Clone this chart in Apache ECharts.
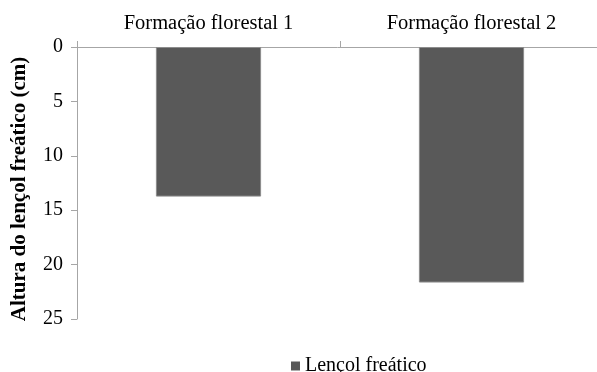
<!DOCTYPE html>
<html>
<head>
<meta charset="utf-8">
<script src="https://cdn.jsdelivr.net/npm/echarts@6/dist/echarts.min.js"></script>
<style>
html,body{margin:0;padding:0;background:#fff;}
#c{width:597px;height:372px;}
</style>
</head>
<body>
<div id="c"></div>
<script>
const categories = ['Formação florestal 1', 'Formação florestal 2'];
const seriesName = 'Lençol freático';
const values = [13.75, 21.65];
const yMin = 0, yMax = 25, yStep = 5;
const yAxisTitle = 'Altura do lençol freático (cm)';

const chart = echarts.init(document.getElementById('c'));
const serif = '"Liberation Serif", "Times New Roman", serif';
chart.setOption({
  animation: false,
  backgroundColor: '#fff',
  grid: { left: 77, top: 47, width: 526, height: 272, containLabel: false, outerBoundsMode: 'none' },
  legend: {
    data: [seriesName],
    left: 286, top: 351,
    icon: 'rect', itemWidth: 9, itemHeight: 9, itemGap: 4,
    itemStyle: { borderWidth: 0 },
    textStyle: { fontFamily: serif, fontSize: 20, color: '#000' }
  },
  xAxis: {
    type: 'category',
    position: 'top',
    data: categories,
    axisLine: { lineStyle: { color: '#a6a6a6', width: 1 } },
    axisTick: { show: true, length: 6, lineStyle: { color: '#a6a6a6' } },
    axisLabel: { fontFamily: serif, fontSize: 20.5, color: '#000', margin: 13 }
  },
  yAxis: {
    type: 'value',
    inverse: true,
    min: yMin, max: yMax, interval: yStep,
    name: yAxisTitle,
    nameLocation: 'middle',
    nameGap: 47,
    nameRotate: 90,
    nameTextStyle: { fontFamily: serif, fontSize: 21, fontWeight: 'bold', color: '#000', padding: [0, 12, 0, 0] },
    axisLine: { show: true, lineStyle: { color: '#a6a6a6', width: 1 } },
    axisTick: { show: true, length: 6, lineStyle: { color: '#a6a6a6' } },
    splitLine: { show: false },
    axisLabel: { fontFamily: serif, fontSize: 20, color: '#000', margin: 14 }
  },
  series: [{
    name: seriesName,
    type: 'bar',
    data: values,
    barCategoryGap: '60%',
    itemStyle: { color: '#595959', borderColor: '#8c8c8c', borderWidth: 1 }
  }]
});
</script>
</body>
</html>
